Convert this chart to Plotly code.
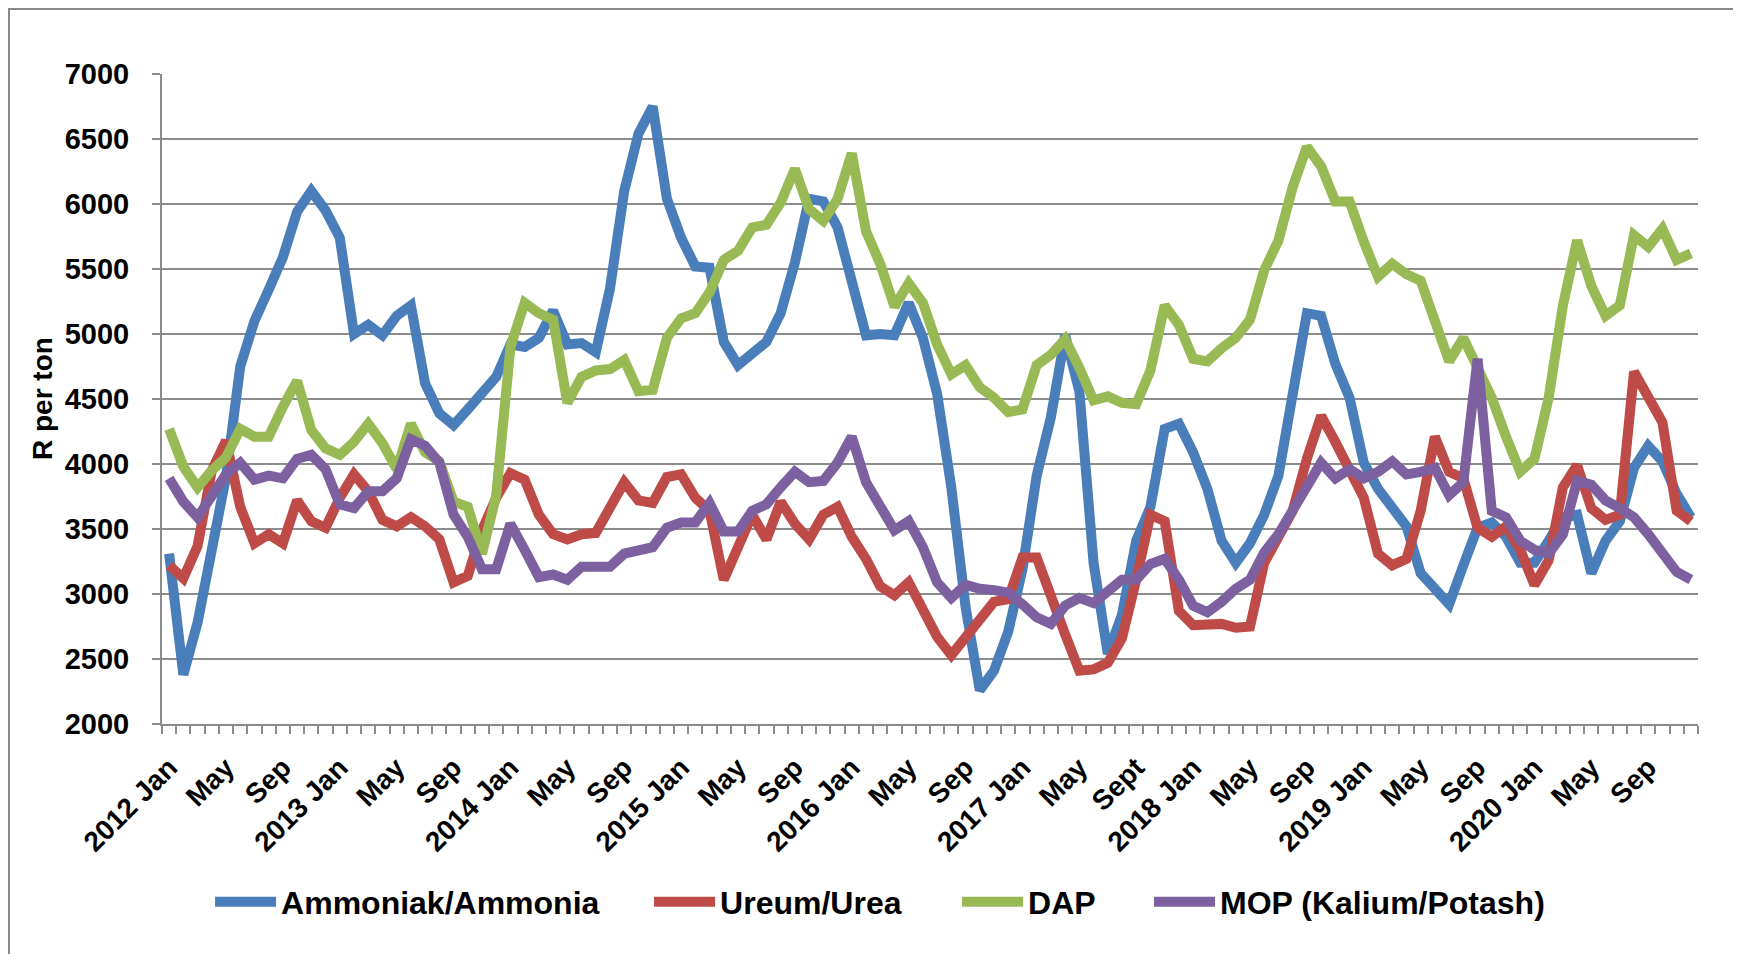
import plotly.graph_objects as go

months = list(range(108))

tick_positions = list(range(0, 108, 4))
tick_labels = ["2012 Jan", "May", "Sep", "2013 Jan", "May", "Sep", "2014 Jan", "May", "Sep",
               "2015 Jan", "May", "Sep", "2016 Jan", "May", "Sep", "2017 Jan", "May", "Sept",
               "2018 Jan", "May", "Sep", "2019 Jan", "May", "Sep", "2020 Jan", "May", "Sep"]

ammonia = [3310, 2380, 2780, 3340, 3900, 4750, 5100, 5340, 5590, 5940, 6100, 5950,
           5740, 5000, 5070, 4990, 5140, 5220, 4620, 4390, 4300, 4420, 4540, 4670,
           4920, 4900, 4970, 5180, 4920, 4930, 4860, 5350, 6100, 6540, 6750, 6040,
           5740, 5520, 5510, 4940, 4760, 4840, 4940, 5160, 5550, 6040, 6020, 5820,
           5420, 4990, 5000, 4990, 5240, 4970, 4540, 3820, 2900, 2260, 2410, 2710,
           3190, 3910, 4360, 4990, 4560, 3240, 2540, 2840, 3410, 3670, 4270, 4310,
           4090, 3810, 3410, 3240, 3390, 3610, 3910, 4520, 5160, 5140, 4770, 4510,
           4010, 3810, 3670, 3520, 3160, 3040, 2920, 3220, 3510, 3550, 3440, 3240,
           3240, 3410, 3590, 3610, 3160, 3410, 3560, 3970, 4140, 4020, 3770, 3590]

urea = [3220, 3120, 3370, 3950, 4180, 3670, 3390, 3460, 3390, 3720, 3560, 3510,
        3740, 3920, 3790, 3570, 3520, 3590, 3520, 3420, 3090, 3140, 3490, 3740,
        3930, 3880, 3610, 3460, 3420, 3460, 3470, 3660, 3860, 3720, 3700, 3900,
        3920, 3740, 3640, 3110, 3370, 3610, 3420, 3710, 3540, 3420, 3610, 3670,
        3440, 3270, 3060, 2990, 3090, 2870, 2670, 2530, 2670, 2810, 2940, 2960,
        3280, 3280, 3010, 2690, 2410, 2420, 2470, 2660, 3110, 3610, 3560, 2870,
        2760, 2760, 2770, 2740, 2750, 3240, 3440, 3640, 4040, 4370, 4170, 3940,
        3740, 3310, 3220, 3270, 3640, 4210, 3940, 3890, 3510, 3440, 3520, 3340,
        3070, 3260, 3820, 3990, 3660, 3570, 3610, 4710, 4520, 4320, 3640, 3560]

dap = [4270, 3980, 3820, 3950, 4050, 4270, 4210, 4210, 4440, 4640, 4260, 4120,
       4070, 4170, 4310, 4160, 3960, 4310, 4090, 4020, 3710, 3670, 3310, 3760,
       4900, 5240, 5160, 5110, 4470, 4670, 4720, 4730, 4800, 4560, 4570, 4970,
       5120, 5160, 5320, 5570, 5640, 5820, 5840, 6010, 6270, 5960, 5870, 6040,
       6390, 5790, 5540, 5210, 5390, 5240, 4920, 4690, 4760, 4590, 4510, 4400,
       4420, 4760, 4840, 4960, 4740, 4490, 4520, 4470, 4460, 4720, 5220, 5070,
       4810, 4790, 4890, 4970, 5110, 5490, 5720, 6130, 6440, 6290, 6020, 6020,
       5710, 5440, 5540, 5460, 5410, 5120, 4790, 4970, 4740, 4510, 4210, 3940,
       4040, 4510, 5220, 5720, 5370, 5140, 5220, 5760, 5670, 5810, 5570, 5620]

mop = [3890, 3710, 3590, 3770, 3920, 4010, 3880, 3910, 3890, 4040, 4070, 3960,
       3690, 3660, 3790, 3790, 3890, 4190, 4140, 4010, 3610, 3440, 3190, 3190,
       3540, 3340, 3130, 3150, 3110, 3210, 3210, 3210, 3310, 3340, 3360, 3510,
       3550, 3550, 3700, 3480, 3480, 3640, 3690, 3820, 3940, 3860, 3870, 4010,
       4210, 3860, 3670, 3490, 3560, 3360, 3090, 2970, 3070, 3040, 3030, 3010,
       2920, 2820, 2770, 2910, 2970, 2930, 3020, 3110, 3110, 3230, 3270, 3110,
       2910, 2860, 2940, 3040, 3110, 3320, 3460, 3640, 3840, 4010, 3890, 3960,
       3890, 3940, 4020, 3920, 3940, 3970, 3760, 3860, 4810, 3640, 3590, 3410,
       3340, 3310, 3460, 3870, 3840, 3720, 3660, 3590, 3460, 3310, 3170, 3110]

series_names = ["Ammoniak/Ammonia", "Ureum/Urea", "DAP", "MOP (Kalium/Potash)"]
series_values = [ammonia, urea, dap, mop]
series_colors = ["#4A7EBB", "#BE4B48", "#98B954", "#7D60A0"]
legend_ids = ["legend", "legend2", "legend3", "legend4"]
legend_x = [0.0313, 0.3171, 0.5176, 0.6426]

# page body has an 8px default margin; compensate so the figure lands on the window grid
OFF = 8
W, H = 1741 - OFF, 954 - OFF
L, R, T, B = 162 - OFF, 43, 74 - OFF, 230
pw = W - L - R
ph = H - T - B

fig = go.Figure()
for name, vals, col, lid in zip(series_names, series_values, series_colors, legend_ids):
    fig.add_trace(go.Scatter(x=months, y=vals, mode="lines", name=name,
                             line=dict(color=col, width=10),
                             legend=lid))

grid = "#8c8c8c"
font_family = "Liberation Sans, Arial, sans-serif"

legend_common = dict(orientation="h", yanchor="middle", y=(H - B - (902 - OFF)) / ph,
                     xanchor="left", font=dict(family=font_family, size=32, color="black", weight="bold"),
                     bgcolor="rgba(0,0,0,0)", borderwidth=0, itemwidth=61)

layout_legends = {}
for lid, lx in zip(legend_ids, legend_x):
    d = dict(legend_common)
    d["x"] = lx
    layout_legends[lid] = d

fig.update_layout(
    width=W, height=H,
    margin=dict(l=L, r=R, t=T, b=B),
    paper_bgcolor="white", plot_bgcolor="white",
    font=dict(family=font_family, size=28, color="black", weight="bold"),
    showlegend=True,
    **layout_legends,
    xaxis=dict(range=[-0.5, 107.5], tickmode="array", tickvals=tick_positions, ticktext=tick_labels,
               tickangle=-45, ticks="outside", ticklen=8, tickcolor="rgba(0,0,0,0)",
               showgrid=False, showline=True, linecolor=grid, linewidth=2,
               zeroline=False, automargin=False,
               tickfont=dict(family=font_family, size=28, color="black", weight="bold"),
               ticklabelstandoff=6,
               minor=dict(tickmode="array", tickvals=[k - 0.5 for k in range(109)],
                          ticks="outside", ticklen=8, tickcolor=grid, tickwidth=1.5, showgrid=False)),
    yaxis=dict(range=[2000, 7000], tickmode="linear", tick0=2000, dtick=500,
               ticks="outside", ticklen=8, tickcolor=grid, tickwidth=1.5,
               showgrid=True, gridcolor=grid, gridwidth=1.5,
               showline=True, linecolor=grid, linewidth=2, zeroline=False, automargin=False,
               tickfont=dict(family=font_family, size=29, color="black", weight="bold"),
               ticklabelstandoff=17),
    annotations=[dict(text="R per ton", textangle=-90, xref="paper", yref="paper",
                      x=(42 - OFF - L) / pw, y=0.5, xanchor="center", yanchor="middle", showarrow=False,
                      font=dict(family=font_family, size=28, color="black", weight="bold"))],
    shapes=[dict(type="rect", xref="paper", yref="paper",
                 x0=(9 - OFF - L) / pw, x1=(1736 - OFF - L) / pw,
                 y0=(H - B - 980) / ph, y1=(H - B - 1) / ph,
                 line=dict(color="#8a8a8a", width=2), fillcolor="rgba(0,0,0,0)", layer="below")],
)

fig.write_html("out.html")
